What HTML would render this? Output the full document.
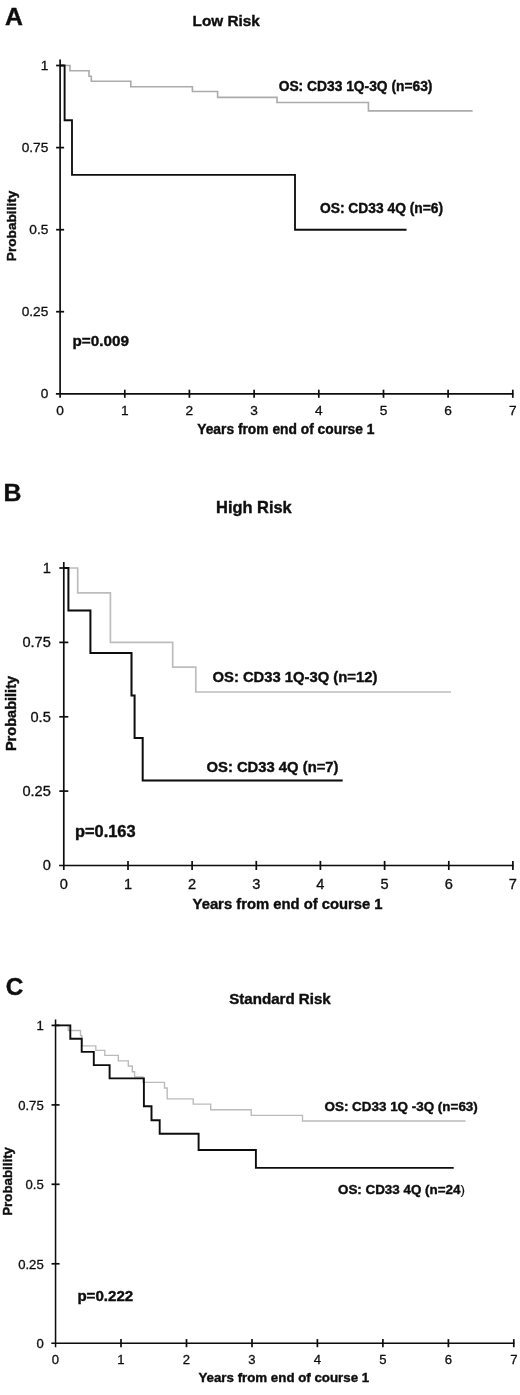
<!DOCTYPE html>
<html>
<head>
<meta charset="utf-8">
<title>Figure</title>
<style>
html,body{margin:0;padding:0;background:#fff;}
body{width:520px;height:1395px;overflow:hidden;font-family:'Liberation Sans', sans-serif;}
svg{display:block;font-family:'Liberation Sans', sans-serif;}
</style>
</head>
<body>
<svg width="520" height="1395" viewBox="0 0 520 1395">
<defs><filter id="soft" x="0" y="0" width="100%" height="100%" filterUnits="userSpaceOnUse"><feGaussianBlur stdDeviation="0.35"/></filter></defs>
<rect x="0" y="0" width="520" height="1395" fill="#ffffff"/>
<g filter="url(#soft)">
<!-- Panel A -->
<text x="5.0" y="25.2" font-size="24.8" font-weight="bold" fill="#0d0d0d" stroke="#0d0d0d" stroke-width="0.4">A</text>
<text x="226.2" y="26.2" font-size="15.3" font-weight="bold" text-anchor="middle" fill="#0d0d0d" stroke="#0d0d0d" stroke-width="0.4">Low Risk</text>
<path d="M64.5,65.5 L70.0,65.5 L70.0,70.8 L89.0,70.8 L89.0,76.2 L91.3,76.2 L91.3,81.3 L130.8,81.3 L130.8,86.8 L192.4,86.8 L192.4,91.5 L217.6,91.5 L217.6,97.4 L277.0,97.4 L277.0,102.5 L368.4,102.5 L368.4,110.9 L472.6,110.9" fill="none" stroke="#ababab" stroke-width="1.6" stroke-linejoin="miter"/>
<path d="M60.1,65.5 L64.6,65.5 L64.6,120.2 L72.0,120.2 L72.0,174.9 L295.0,174.9 L295.0,229.7 L406.5,229.7" fill="none" stroke="#0c0c0c" stroke-width="1.85" stroke-linejoin="miter"/>
<path d="M60.1,59.5 L60.1,397.8" stroke="#0c0c0c" stroke-width="1.7" fill="none"/>
<path d="M55.9,393.8 L513.4,393.8" stroke="#0c0c0c" stroke-width="1.7" fill="none"/>
<path d="M56.1,65.5 L64.1,65.5" stroke="#0c0c0c" stroke-width="1.7" fill="none"/>
<text x="48.3" y="69.7" font-size="13.7" text-anchor="end" fill="#0d0d0d" stroke="#0d0d0d" stroke-width="0.3">1</text>
<path d="M56.1,147.6 L64.1,147.6" stroke="#0c0c0c" stroke-width="1.7" fill="none"/>
<text x="48.3" y="151.8" font-size="13.7" text-anchor="end" fill="#0d0d0d" stroke="#0d0d0d" stroke-width="0.3">0.75</text>
<path d="M56.1,229.7 L64.1,229.7" stroke="#0c0c0c" stroke-width="1.7" fill="none"/>
<text x="48.3" y="233.8" font-size="13.7" text-anchor="end" fill="#0d0d0d" stroke="#0d0d0d" stroke-width="0.3">0.5</text>
<path d="M56.1,311.7 L64.1,311.7" stroke="#0c0c0c" stroke-width="1.7" fill="none"/>
<text x="48.3" y="315.9" font-size="13.7" text-anchor="end" fill="#0d0d0d" stroke="#0d0d0d" stroke-width="0.3">0.25</text>
<text x="48.3" y="398.0" font-size="13.7" text-anchor="end" fill="#0d0d0d" stroke="#0d0d0d" stroke-width="0.3">0</text>
<text x="60.1" y="415.3" font-size="13.7" text-anchor="middle" fill="#0d0d0d" stroke="#0d0d0d" stroke-width="0.3">0</text>
<path d="M124.8,389.7 L124.8,397.8" stroke="#0c0c0c" stroke-width="1.7" fill="none"/>
<text x="124.8" y="415.3" font-size="13.7" text-anchor="middle" fill="#0d0d0d" stroke="#0d0d0d" stroke-width="0.3">1</text>
<path d="M189.4,389.7 L189.4,397.8" stroke="#0c0c0c" stroke-width="1.7" fill="none"/>
<text x="189.4" y="415.3" font-size="13.7" text-anchor="middle" fill="#0d0d0d" stroke="#0d0d0d" stroke-width="0.3">2</text>
<path d="M254.1,389.7 L254.1,397.8" stroke="#0c0c0c" stroke-width="1.7" fill="none"/>
<text x="254.1" y="415.3" font-size="13.7" text-anchor="middle" fill="#0d0d0d" stroke="#0d0d0d" stroke-width="0.3">3</text>
<path d="M318.8,389.7 L318.8,397.8" stroke="#0c0c0c" stroke-width="1.7" fill="none"/>
<text x="318.8" y="415.3" font-size="13.7" text-anchor="middle" fill="#0d0d0d" stroke="#0d0d0d" stroke-width="0.3">4</text>
<path d="M383.5,389.7 L383.5,397.8" stroke="#0c0c0c" stroke-width="1.7" fill="none"/>
<text x="383.5" y="415.3" font-size="13.7" text-anchor="middle" fill="#0d0d0d" stroke="#0d0d0d" stroke-width="0.3">5</text>
<path d="M448.1,389.7 L448.1,397.8" stroke="#0c0c0c" stroke-width="1.7" fill="none"/>
<text x="448.1" y="415.3" font-size="13.7" text-anchor="middle" fill="#0d0d0d" stroke="#0d0d0d" stroke-width="0.3">6</text>
<path d="M512.8,389.7 L512.8,397.8" stroke="#0c0c0c" stroke-width="1.7" fill="none"/>
<text x="512.8" y="415.3" font-size="13.7" text-anchor="middle" fill="#0d0d0d" stroke="#0d0d0d" stroke-width="0.3">7</text>
<text transform="translate(16,225.9) rotate(-90)" font-size="13.65" font-weight="bold" text-anchor="middle" fill="#0d0d0d" stroke="#0d0d0d" stroke-width="0.4">Probability</text>
<text x="285.8" y="433.9" font-size="13.8" font-weight="bold" text-anchor="middle" fill="#0d0d0d" stroke="#0d0d0d" stroke-width="0.4">Years from end of course 1</text>
<text x="278.7" y="90.8" font-size="13.8" font-weight="bold" fill="#0d0d0d" stroke="#0d0d0d" stroke-width="0.4">OS: CD33 1Q-3Q (n=63)</text>
<text x="320.0" y="213.0" font-size="13.8" font-weight="bold" fill="#0d0d0d" stroke="#0d0d0d" stroke-width="0.4">OS: CD33 4Q (n=6)</text>
<text x="72.5" y="346.4" font-size="15.25" font-weight="bold" fill="#0d0d0d" stroke="#0d0d0d" stroke-width="0.4" >p=0.009</text>
<!-- Panel B -->
<text x="3.6" y="501.2" font-size="24.8" font-weight="bold" fill="#0d0d0d" stroke="#0d0d0d" stroke-width="0.4">B</text>
<text x="253.9" y="512.6" font-size="16.4" font-weight="bold" text-anchor="middle" fill="#0d0d0d" stroke="#0d0d0d" stroke-width="0.4">High Risk</text>
<path d="M68.0,568.0 L77.7,568.0 L77.7,592.8 L110.4,592.8 L110.4,642.4 L172.7,642.4 L172.7,667.2 L195.8,667.2 L195.8,692.0 L451.0,692.0" fill="none" stroke="#bdbdbd" stroke-width="1.7" stroke-linejoin="miter"/>
<path d="M63.8,568.0 L68.4,568.0 L68.4,610.5 L90.4,610.5 L90.4,653.1 L131.5,653.1 L131.5,695.6 L134.6,695.6 L134.6,738.0 L142.7,738.0 L142.7,780.5 L342.7,780.5" fill="none" stroke="#0c0c0c" stroke-width="2" stroke-linejoin="miter"/>
<path d="M63.8,562.0 L63.8,870.0" stroke="#0c0c0c" stroke-width="1.7" fill="none"/>
<path d="M59.1,865.5 L513.5,865.5" stroke="#0c0c0c" stroke-width="1.7" fill="none"/>
<path d="M59.3,568.0 L68.3,568.0" stroke="#0c0c0c" stroke-width="1.7" fill="none"/>
<text x="50.8" y="572.8" font-size="14.6" text-anchor="end" fill="#0d0d0d" stroke="#0d0d0d" stroke-width="0.3">1</text>
<path d="M59.3,642.4 L68.3,642.4" stroke="#0c0c0c" stroke-width="1.7" fill="none"/>
<text x="50.8" y="647.2" font-size="14.6" text-anchor="end" fill="#0d0d0d" stroke="#0d0d0d" stroke-width="0.3">0.75</text>
<path d="M59.3,716.8 L68.3,716.8" stroke="#0c0c0c" stroke-width="1.7" fill="none"/>
<text x="50.8" y="721.5" font-size="14.6" text-anchor="end" fill="#0d0d0d" stroke="#0d0d0d" stroke-width="0.3">0.5</text>
<path d="M59.3,791.1 L68.3,791.1" stroke="#0c0c0c" stroke-width="1.7" fill="none"/>
<text x="50.8" y="795.9" font-size="14.6" text-anchor="end" fill="#0d0d0d" stroke="#0d0d0d" stroke-width="0.3">0.25</text>
<text x="50.8" y="870.3" font-size="14.6" text-anchor="end" fill="#0d0d0d" stroke="#0d0d0d" stroke-width="0.3">0</text>
<text x="63.8" y="888.7" font-size="14.6" text-anchor="middle" fill="#0d0d0d" stroke="#0d0d0d" stroke-width="0.3">0</text>
<path d="M128.0,860.9 L128.0,870.0" stroke="#0c0c0c" stroke-width="1.7" fill="none"/>
<text x="128.0" y="888.7" font-size="14.6" text-anchor="middle" fill="#0d0d0d" stroke="#0d0d0d" stroke-width="0.3">1</text>
<path d="M192.1,860.9 L192.1,870.0" stroke="#0c0c0c" stroke-width="1.7" fill="none"/>
<text x="192.1" y="888.7" font-size="14.6" text-anchor="middle" fill="#0d0d0d" stroke="#0d0d0d" stroke-width="0.3">2</text>
<path d="M256.3,860.9 L256.3,870.0" stroke="#0c0c0c" stroke-width="1.7" fill="none"/>
<text x="256.3" y="888.7" font-size="14.6" text-anchor="middle" fill="#0d0d0d" stroke="#0d0d0d" stroke-width="0.3">3</text>
<path d="M320.4,860.9 L320.4,870.0" stroke="#0c0c0c" stroke-width="1.7" fill="none"/>
<text x="320.4" y="888.7" font-size="14.6" text-anchor="middle" fill="#0d0d0d" stroke="#0d0d0d" stroke-width="0.3">4</text>
<path d="M384.6,860.9 L384.6,870.0" stroke="#0c0c0c" stroke-width="1.7" fill="none"/>
<text x="384.6" y="888.7" font-size="14.6" text-anchor="middle" fill="#0d0d0d" stroke="#0d0d0d" stroke-width="0.3">5</text>
<path d="M448.8,860.9 L448.8,870.0" stroke="#0c0c0c" stroke-width="1.7" fill="none"/>
<text x="448.8" y="888.7" font-size="14.6" text-anchor="middle" fill="#0d0d0d" stroke="#0d0d0d" stroke-width="0.3">6</text>
<path d="M512.9,860.9 L512.9,870.0" stroke="#0c0c0c" stroke-width="1.7" fill="none"/>
<text x="512.9" y="888.7" font-size="14.6" text-anchor="middle" fill="#0d0d0d" stroke="#0d0d0d" stroke-width="0.3">7</text>
<text transform="translate(16.0,713.5) rotate(-90)" font-size="14.55" font-weight="bold" text-anchor="middle" fill="#0d0d0d" stroke="#0d0d0d" stroke-width="0.4">Probability</text>
<text x="287.6" y="909" font-size="14.8" font-weight="bold" text-anchor="middle" fill="#0d0d0d" stroke="#0d0d0d" stroke-width="0.4">Years from end of course 1</text>
<text x="212.5" y="681.5" font-size="14.8" font-weight="bold" fill="#0d0d0d" stroke="#0d0d0d" stroke-width="0.4">OS: CD33 1Q-3Q (n=12)</text>
<text x="206.5" y="772.2" font-size="14.8" font-weight="bold" fill="#0d0d0d" stroke="#0d0d0d" stroke-width="0.4">OS: CD33 4Q (n=7)</text>
<text x="75.0" y="837.0" font-size="15.7" font-weight="bold" fill="#0d0d0d" stroke="#0d0d0d" stroke-width="0.4" textLength="60.6" lengthAdjust="spacingAndGlyphs">p=0.163</text>
<!-- Panel C -->
<text x="5.8" y="994.6" font-size="24.4" font-weight="bold" fill="#0d0d0d" stroke="#0d0d0d" stroke-width="0.4">C</text>
<text x="280" y="1003.7" font-size="15.1" font-weight="bold" text-anchor="middle" fill="#0d0d0d" stroke="#0d0d0d" stroke-width="0.4">Standard Risk</text>
<path d="M56.0,1025.4 L68.2,1025.4 L68.2,1030.5 L80.5,1030.5 L80.5,1035.6 L81.9,1035.6 L81.9,1045.8 L95.8,1045.8 L95.8,1050.3 L104.8,1050.3 L104.8,1055.4 L118.3,1055.4 L118.3,1060.8 L128.3,1060.8 L128.3,1066.0 L132.3,1066.0 L132.3,1071.7 L134.6,1071.7 L134.6,1077.0 L143.0,1077.0 L143.0,1082.3 L164.5,1082.3 L164.5,1088.0 L167.2,1088.0 L167.2,1098.8 L193.2,1098.8 L193.2,1104.1 L210.7,1104.1 L210.7,1109.7 L251.2,1109.7 L251.2,1115.3 L302.5,1115.3 L302.5,1121.0 L465.6,1121.0" fill="none" stroke="#bababa" stroke-width="1.35" stroke-linejoin="miter"/>
<path d="M55.5,1025.4 L70.3,1025.4 L70.3,1038.7 L81.7,1038.7 L81.7,1051.9 L93.8,1051.9 L93.8,1065.1 L109.6,1065.1 L109.6,1078.4 L143.9,1078.4 L143.9,1106.2 L151.5,1106.2 L151.5,1120.2 L159.7,1120.2 L159.7,1133.7 L198.6,1133.7 L198.6,1150.0 L255.9,1150.0 L255.9,1167.9 L453.7,1167.9" fill="none" stroke="#0c0c0c" stroke-width="1.9" stroke-linejoin="miter"/>
<path d="M55.55,1019.4000000000001 L55.55,1347.2" stroke="#0c0c0c" stroke-width="1.5" fill="none"/>
<path d="M51.3,1343.2 L514.4,1343.2" stroke="#0c0c0c" stroke-width="1.5" fill="none"/>
<path d="M51.55,1025.4 L59.55,1025.4" stroke="#0c0c0c" stroke-width="1.7" fill="none"/>
<text x="43.7" y="1030.1" font-size="13.1" text-anchor="end" fill="#0d0d0d" stroke="#0d0d0d" stroke-width="0.3">1</text>
<path d="M51.55,1104.9 L59.55,1104.9" stroke="#0c0c0c" stroke-width="1.7" fill="none"/>
<text x="43.7" y="1109.6" font-size="13.1" text-anchor="end" fill="#0d0d0d" stroke="#0d0d0d" stroke-width="0.3">0.75</text>
<path d="M51.55,1184.3 L59.55,1184.3" stroke="#0c0c0c" stroke-width="1.7" fill="none"/>
<text x="43.7" y="1189.0" font-size="13.1" text-anchor="end" fill="#0d0d0d" stroke="#0d0d0d" stroke-width="0.3">0.5</text>
<path d="M51.55,1263.8 L59.55,1263.8" stroke="#0c0c0c" stroke-width="1.7" fill="none"/>
<text x="43.7" y="1268.5" font-size="13.1" text-anchor="end" fill="#0d0d0d" stroke="#0d0d0d" stroke-width="0.3">0.25</text>
<text x="43.7" y="1347.9" font-size="13.1" text-anchor="end" fill="#0d0d0d" stroke="#0d0d0d" stroke-width="0.3">0</text>
<text x="55.5" y="1364" font-size="13.1" text-anchor="middle" fill="#0d0d0d" stroke="#0d0d0d" stroke-width="0.3">0</text>
<path d="M121.0,1339.1 L121.0,1347.2" stroke="#0c0c0c" stroke-width="1.7" fill="none"/>
<text x="121.0" y="1364" font-size="13.1" text-anchor="middle" fill="#0d0d0d" stroke="#0d0d0d" stroke-width="0.3">1</text>
<path d="M186.5,1339.1 L186.5,1347.2" stroke="#0c0c0c" stroke-width="1.7" fill="none"/>
<text x="186.5" y="1364" font-size="13.1" text-anchor="middle" fill="#0d0d0d" stroke="#0d0d0d" stroke-width="0.3">2</text>
<path d="M252.0,1339.1 L252.0,1347.2" stroke="#0c0c0c" stroke-width="1.7" fill="none"/>
<text x="252.0" y="1364" font-size="13.1" text-anchor="middle" fill="#0d0d0d" stroke="#0d0d0d" stroke-width="0.3">3</text>
<path d="M317.4,1339.1 L317.4,1347.2" stroke="#0c0c0c" stroke-width="1.7" fill="none"/>
<text x="317.4" y="1364" font-size="13.1" text-anchor="middle" fill="#0d0d0d" stroke="#0d0d0d" stroke-width="0.3">4</text>
<path d="M382.9,1339.1 L382.9,1347.2" stroke="#0c0c0c" stroke-width="1.7" fill="none"/>
<text x="382.9" y="1364" font-size="13.1" text-anchor="middle" fill="#0d0d0d" stroke="#0d0d0d" stroke-width="0.3">5</text>
<path d="M448.4,1339.1 L448.4,1347.2" stroke="#0c0c0c" stroke-width="1.7" fill="none"/>
<text x="448.4" y="1364" font-size="13.1" text-anchor="middle" fill="#0d0d0d" stroke="#0d0d0d" stroke-width="0.3">6</text>
<path d="M513.8,1339.1 L513.8,1347.2" stroke="#0c0c0c" stroke-width="1.7" fill="none"/>
<text x="513.8" y="1364" font-size="13.1" text-anchor="middle" fill="#0d0d0d" stroke="#0d0d0d" stroke-width="0.3">7</text>
<text transform="translate(12.2,1181.4) rotate(-90)" font-size="13.3" font-weight="bold" text-anchor="middle" fill="#0d0d0d" stroke="#0d0d0d" stroke-width="0.4">Probability</text>
<text x="283.8" y="1382.2" font-size="13.3" font-weight="bold" text-anchor="middle" fill="#0d0d0d" stroke="#0d0d0d" stroke-width="0.4">Years from end of course 1</text>
<text x="324.5" y="1110.8" font-size="13.43" font-weight="bold" fill="#0d0d0d" stroke="#0d0d0d" stroke-width="0.4">OS: CD33 1Q -3Q (n=63)</text>
<text x="338.0" y="1194.2" font-size="13.4" font-weight="bold" fill="#0d0d0d" stroke="#0d0d0d" stroke-width="0.4">OS: CD33 4Q (n=24<tspan font-weight="normal" stroke-width="0.15">)</tspan></text>
<text x="77.4" y="1300.8" font-size="15.1" font-weight="bold" fill="#0d0d0d" stroke="#0d0d0d" stroke-width="0.4" >p=0.222</text>
</g>
</svg>
</body>
</html>
